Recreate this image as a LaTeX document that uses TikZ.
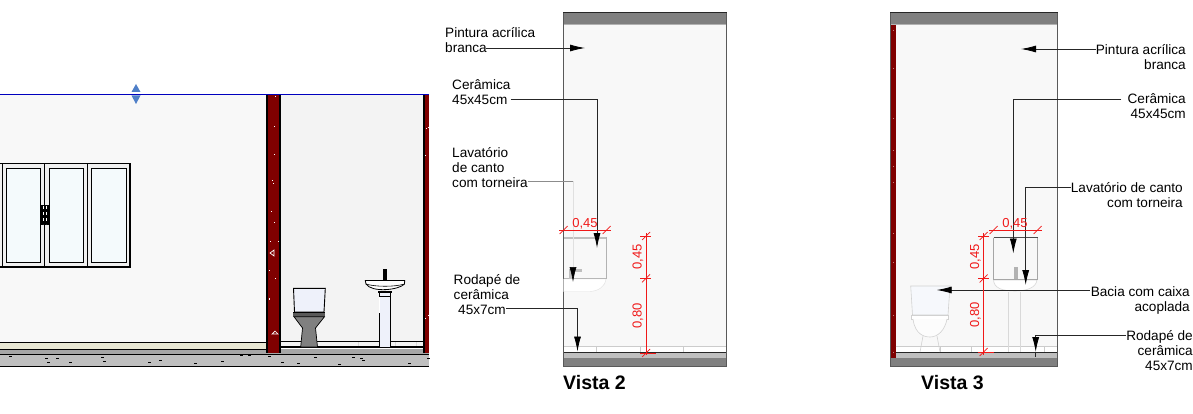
\documentclass[tikz,border=0pt]{standalone}
\usepackage{fontspec}
\setmainfont{Liberation Sans}
\usetikzlibrary{arrows.meta}
\definecolor{wallred}{HTML}{7F0000}
\definecolor{wallgray}{HTML}{F8F8F8}
\definecolor{roomgray}{HTML}{F3F3F3}
\definecolor{concrete}{HTML}{BFBFBF}
\definecolor{bandgray}{HTML}{808080}
\definecolor{glass}{HTML}{F4FAFC}
\definecolor{ware}{HTML}{EEF1FA}
\definecolor{handlepaint}{HTML}{4F7FC8}
\definecolor{dimred}{HTML}{F01818}
\begin{document}
\begin{tikzpicture}[
     x = 1pt,
     y = -1pt,
     note/.style = {inner sep = 0pt, font = \fontsize{13.6}{15}\selectfont},
     title/.style = {inner sep = 0pt, font = \fontsize{19.5}{20}\selectfont\bfseries, anchor = west},
     leader/.style = {line width = 0.8pt, black!85},
     pointer/.style = {leader, -{Latex[length = 15pt, width = 7pt, black]}},
     dim/.style = {dimred, line width = 0.7pt},
     dimtext/.style = {dimred, inner sep = 0pt, font = \fontsize{13}{13}\selectfont},
     faint/.style = {black!12, line width = 0.6pt}
    ]
    \useasboundingbox (0,0) rectangle (1193,414);

    % elevation
    \fill[wallgray] (0,95) rectangle (266,342);
    \fill[roomgray] (280,95) rectangle (424,347);
    \fill[concrete] (0,354) rectangle (429,366);
    \fill[black!35] (0,349) rectangle (429,354);
    \fill[yellow!10!wallgray!92!black] (0,343) rectangle (266,349);
    \draw[black, line width = 0.8pt] (0,342) -- (266,342) (0,349) -- (266,349) (0,354) -- (429,354) (0,366) -- (429,366);
    \draw[black, line width = 0.8pt] (280,341.7) -- (424,341.7);
    \draw[black, line width = 2pt] (280,347) -- (424,347);
    \foreach \px in {358,395,416}
      \draw[black!15] (\px,342) -- (\px,346);

    \fill[black] (265.5,95) rectangle (281,353);
    \fill[wallred] (268,95) rectangle (279,353);
    \fill[black] (422.7,95) rectangle (425,353);
    \fill[wallred] (425,95) rectangle (429,353);
    \draw[blue!75!black, line width = 0.9pt] (0,94.5) -- (429,94.5);
    \fill[handlepaint] (136,84) -- (140.5,92) -- (131.5,92) -- cycle;
    \fill[handlepaint] (131.5,95.5) -- (140.5,95.5) -- (136,104) -- cycle;

    \foreach \px/\py in {275/96,274/126,274/154,272/180,273/183,271/211,274/222,270/241,278/241,269/270,275/278,269/299,269/298,275/278,428/127,426/128,429/183,425/318,428/315,425/155}
      \fill[white] (\px,\py) rectangle +(1.4,1);
    \draw[white, line width = 0.7pt] (270,253) -- (274,250) -- (274,256) -- cycle;
    \draw[white, line width = 0.7pt] (272,334) -- (278,334) -- (275,331) -- cycle;
    \foreach \px/\py in {9/356,45/358,56/358,47/362,69/362,101/357,103/361,148/362,159/360,194/363,221/361,240/355,248/355,268/356,281/362,297/363,314/357,352/357,362/360,338/364,360/358,408/363,427/358}
      \fill[black] (\px,\py) rectangle +(2.5,1);

    % window
    \fill[black!6] (0,163.5) rectangle (130.5,267);
    \draw[black, line width = 1.5pt] (0,163.5) -- (130,163.5) -- (130,267) -- (0,267);
    \foreach \px in {2.5,44.7,87.7}
      \draw[black, line width = 0.9pt] (\px,164) -- (\px,267);
    \foreach \pa/\pb in {6.3/40.7,49.3/83.7,91.3/126}
      \draw[black, line width = 0.8pt, fill = glass] (\pa,168.3) rectangle (\pb,262.7);
    \fill[black] (40.7,205) rectangle (49.3,225);
    \draw[white, dashed, line width = 0.6pt] (43,206) -- (43,224) (46.5,206) -- (46.5,224);

    % toilet
    \draw[black, line width = 0.9pt, fill = ware] (293.5,288.3) -- (325.3,288.3) -- (324,312) -- (294.5,312) -- cycle;
    \fill[black!65] (293,312) rectangle (325,316.7);
    \draw[black, line width = 1pt] (293,312.5) -- (325,312.5);
    \draw[black, line width = 0.7pt, fill = bandgray] (294,316.7) -- (324.5,316.7) -- (315.5,328) -- (317.5,347) -- (300.7,347) -- (302.5,328) -- cycle;

    % sink
    \draw[black, line width = 0.8pt, fill = ware] (379,291) rectangle (390.7,347);
    \draw[black, line width = 0.6pt] (379,291) -- (390.7,291) (379,296) -- (390.7,296);
    \fill[white] (378.5,297) rectangle (379.5,313);
    \draw[black, line width = 0.8pt, fill = white] (365.3,280.5) -- (404.7,280.5) -- (404.5,284) .. controls (399,290) and (372,293) .. (366,284) -- cycle;
    \draw[black, line width = 0.6pt] (366,284) .. controls (375,287) and (395,287) .. (404.5,284);
    \fill[black] (383.3,269) rectangle (386.7,280);
    \fill[black] (378.5,279.5) rectangle (392,281);
    \fill[black] (378,291) rectangle (391.5,292.5);

    % Vista 2
    \draw[black!65, fill = wallgray, line width = 0.8pt] (563.5,13) rectangle (726.5,366);
    \fill[bandgray] (563.5,13) rectangle (726.8,24);
    \fill[black!30] (563.5,24) rectangle (726.8,25);
    \draw[black!85, line width = 1pt] (563.3,12.7) -- (726.8,12.7);
    \fill[black!8] (563.5,347) rectangle (726.5,353);
    \fill[white] (564,346) rectangle (726,352);
    \draw[black!20, line width = 0.6pt] (563.5,346) -- (726.5,346);
    \foreach \px in {596.7,640,683}
      \draw[black!20, line width = 0.6pt] (\px,346) -- (\px,352);
    \fill[black!25] (563.5,353) rectangle (726.8,358);
    \fill[bandgray] (563.5,358) rectangle (726.8,366);
    \draw[black!85, line width = 0.9pt] (563.5,352.7) -- (726.8,352.7);
    \draw[black!65, line width = 0.8pt] (726.6,13) -- (726.6,366);
    \draw[black!65, line width = 0.8pt] (563.5,13) -- (563.5,366);

    \fill[black!25] (563.5,236.5) rectangle (606.7,238.5);
    \draw[black!30, line width = 0.7pt] (606.7,237) -- (606.7,278) (563.5,278) -- (606.7,278);
    \fill[black!25] (569,269) rectangle (582,272);
    \fill[black!25] (569,269) rectangle (573,279);
    \draw[black!12, fill = white] (563.5,279) -- (606,279) .. controls (605,287) and (598,291) .. (590,291.5) -- (563.5,291.5) -- cycle;

    \coordinate (pintLtip) at (585,48);
    \coordinate (ceramLbend) at (597,99);
    \coordinate (ceramLtip) at (597,248);
    \coordinate (lavatLend) at (573,181.5);
    \coordinate (lavatLtip) at (573,282);
    \coordinate (rodapLbend) at (577.5,308);
    \coordinate (rodapLtip) at (577.5,351.5);

    \node[note, anchor = north west, align = left] (pintL) at (445,27) {Pintura acrílica\\branca};
    \node[note, anchor = north west, align = left] (ceramL) at (452,79) {Cerâmica\\45x45cm};
    \node[note, anchor = north west, align = left] (lavatL) at (452,147) {Lavatório\\de canto\\com torneira};
    \node[note, anchor = north west, align = left] (rodapL) at (453.5,274) {Rodapé de\\cerâmica\\\hspace*{4.5pt}45x7cm};
    \node[title] (vistaL) at (563,383) {Vista 2};

    \draw[pointer] ([xshift = -49pt]pintL.east |- pintLtip) -- (pintLtip);
    \draw[pointer] (ceramL.east |- ceramLbend) -- (ceramLbend) -- (ceramLtip);
    \draw[leader, black!45, line width = 0.6pt] (lavatL.east |- lavatLend) -- (lavatLend);
    \draw[faint, -{Latex[length = 15pt, width = 7pt, black]}] (lavatLend) -- (lavatLtip);
    \draw[pointer] ([xshift = -14pt]rodapL.east |- rodapLbend) -- (rodapLbend) -- (rodapLtip);

    \node[dimtext] (dimLw) at (585,223.5) {0,45};
    \node[dimtext, rotate = 90] (dimLa) at (638,257) {0,45};
    \node[dimtext, rotate = 90] (dimLb) at (638,316) {0,80};
    \draw[dim] (559,230) -- (611,230);
    \foreach \px in {563.5,606.7}
      \draw[dim] (\px-4,234) -- (\px+4,226);
    \draw[dim] (646,233) -- (646,355);
    \draw[dim] (640,236) -- (651,236) (640,278.3) -- (651,278.3) (640,353) -- (656,353);
    \foreach \py in {236,278.3,353}
      \draw[dim] (642,\py+4) -- (650,\py-4);

    % Vista 3
    \draw[black!65, fill = wallgray, line width = 0.8pt] (890.5,13) rectangle (1057.7,366);
    \fill[wallred] (891,24) rectangle (895.7,358);
    \foreach \py in {30,68,118,150,166,182,233,262,315,352}
      \fill[white, opacity = 0.5] (893,\py) rectangle +(1.2,1);
    \fill[black!8] (895.7,346) rectangle (1057.3,353);
    \fill[white] (895.7,347) rectangle (1057.3,352);
    \draw[black!20, line width = 0.6pt] (895.7,346) -- (1057.3,346);
    \foreach \px in {940,971,1008,1044}
      \draw[black!20, line width = 0.6pt] (\px,346) -- (\px,352);
    \fill[black!25] (895.7,353) rectangle (1057.7,358);
    \fill[bandgray] (890.5,358) rectangle (1057.7,366);
    \fill[bandgray] (890.5,13) rectangle (1057.7,24);
    \fill[black!30] (890.5,24) rectangle (1057.7,25);
    \draw[black!85, line width = 1pt] (890.3,12.7) -- (1057.7,12.7);
    \draw[black!85, line width = 0.9pt] (895.7,352.7) -- (1057.7,352.7);
    \draw[black!65, line width = 0.8pt] (890.5,13) -- (890.5,366) -- (1057.7,366) -- (1057.7,13);

    \draw[black!15, line width = 0.6pt] (1008.3,292) -- (1008.3,352) (1020.7,292) -- (1020.7,352);
    \draw[black!15, line width = 0.6pt, fill = white] (993.5,280) -- (1037,280) .. controls (1036,288) and (1026,291) .. (1015,291) .. controls (1002,291) and (994,288) .. (993.5,280) -- cycle;
    \draw[black!35, line width = 0.8pt] (993.5,237.5) -- (993.5,279) -- (1037.7,279) -- (1037.7,237.5);
    \fill[black!30] (1014,267) rectangle (1018,279);
    \draw[black!70, line width = 0.7pt] (993.5,237.3) -- (1037.7,237.3);

    \draw[black!18, line width = 0.6pt, fill = ware!50!white] (910.7,286) -- (950,286) -- (948,315) -- (912.5,315) -- cycle;
    \draw[black!18, line width = 0.6pt, fill = white] (911.5,315) -- (948.5,315) -- (948.5,319) -- (911.5,319) -- cycle;
    \draw[black!18, line width = 0.6pt, fill = white!60!wallgray] (913,319) .. controls (915,335) and (925,337) .. (930,337) .. controls (938,337) and (945,330) .. (947,319);
    \draw[black!18, line width = 0.6pt] (923,336) -- (920,352) (937,336) -- (940,352);

    \coordinate (pintRtip) at (1021,49);
    \coordinate (ceramRbend) at (1013.3,99);
    \coordinate (ceramRtip) at (1013.3,253.5);
    \coordinate (lavatRbend) at (1025.7,187);
    \coordinate (lavatRtip) at (1025.7,285);
    \coordinate (baciaRtip) at (936.7,290);
    \coordinate (rodapRbend) at (1035.7,335);
    \coordinate (rodapRtip) at (1035.7,352);
    \coordinate (rodapRend) at (1035.7,357);

    \node[note, anchor = north east, align = right] (pintR) at (1186,44) {Pintura acrílica\\branca};
    \node[note, anchor = north east, align = right] (ceramR) at (1186,93) {Cerâmica\\45x45cm};
    \node[note, anchor = north east, align = right] (lavatR) at (1183,182) {Lavatório de canto\\com torneira};
    \node[note, anchor = north east, align = right] (baciaR) at (1190,286) {Bacia com caixa\\acoplada};
    \node[note, anchor = north east, align = right] (rodapR) at (1193,330) {Rodapé de\\cerâmica\\45x7cm};
    \node[title] (vistaR) at (921,383) {Vista 3};

    \draw[pointer] (pintR.west |- pintRtip) -- (pintRtip);
    \draw[pointer] ([xshift = -6pt]ceramR.west |- ceramRbend) -- (ceramRbend) -- (ceramRtip);
    \draw[pointer] (lavatR.west |- lavatRbend) -- (lavatRbend) -- (lavatRtip);
    \draw[pointer] ([xshift = -1pt]baciaR.west |- baciaRtip) -- (baciaRtip);
    \draw[pointer] (rodapR.west |- rodapRbend) -- (rodapRbend) -- (rodapRtip);
    \draw[leader] (rodapRtip) -- (rodapRend);

    \node[dimtext] (dimRw) at (1015,223.5) {0,45};
    \node[dimtext, rotate = 90] (dimRa) at (975.5,257) {0,45};
    \node[dimtext, rotate = 90] (dimRb) at (975.5,315) {0,80};
    \draw[dim] (989,230) -- (1041.7,230);
    \foreach \px in {993.5,1037.7}
      \draw[dim] (\px-4,234) -- (\px+4,226);
    \draw[dim] (983.3,233) -- (983.3,355);
    \draw[dim] (978,236) -- (989,236) (978,278.5) -- (989,278.5) (978,352) -- (994,352);
    \foreach \py in {236,278.5,352}
      \draw[dim] (979.5,\py+4) -- (987.5,\py-4);
\end{tikzpicture}
\end{document}
